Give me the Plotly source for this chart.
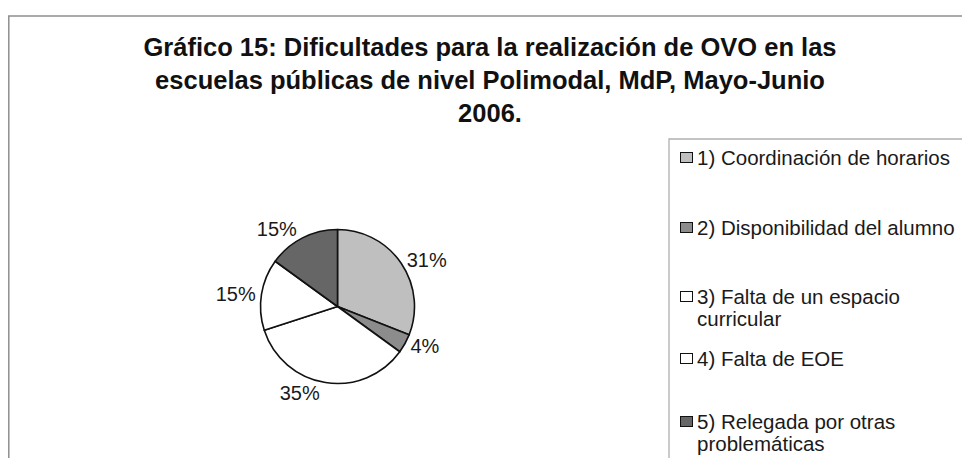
import plotly.graph_objects as go

# ---- data ----
categories = [
    "1) Coordinación de horarios",
    "2) Disponibilidad del alumno",
    "3) Falta de un espacio curricular",
    "4) Falta de EOE",
    "5) Relegada por otras problemáticas",
]
values = [31, 4, 35, 15, 15]
colors = ["#bfbfbf", "#8c8c8c", "#ffffff", "#ffffff", "#666666"]
legend_lines = [
    ["1) Coordinación de horarios"],
    ["2) Disponibilidad del alumno"],
    ["3) Falta de un espacio", "curricular"],
    ["4) Falta de EOE"],
    ["5) Relegada por otras", "problemáticas"],
]
title_text = ("Gráfico 15: Dificultades para la realización de OVO en las<br>"
              "escuelas públicas de nivel Polimodal, MdP, Mayo-Junio<br>2006.")

# the page body keeps its default 8px margin on every side, so the figure is
# sized to fit inside the window without scrolling
OFF = 8
W, H = 970 - 2 * OFF, 466 - 2 * OFF
FONT = "Liberation Sans, Arial, sans-serif"


def px(x):  # page pixel -> paper x
    return (x - OFF) / W


def py(y):  # page pixel -> paper y
    return 1 - (y - OFF) / H


cx, cy, r = 337.5, 306.5, 77

fig = go.Figure(
    go.Pie(
        labels=categories,
        values=values,
        sort=False,
        direction="clockwise",
        rotation=0,
        marker=dict(colors=colors, line=dict(color="#111111", width=1.6)),
        textinfo="percent",
        texttemplate="%{percent:.0%}",
        textposition="outside",
        textfont=dict(size=20, color="#1a1a1a", family=FONT),
        showlegend=False,
        hoverinfo="label+percent",
        domain=dict(x=[px(cx - r), px(cx + r)],
                    y=[py(cy + r), py(cy - r)]),
    )
)

frame = dict(color="#8f8f8f", width=1.5)
legend_frame = dict(color="#b0b0b0", width=1.3)
shapes = [
    # outer chart frame (top and left edges; the rest lies outside the view)
    dict(type="rect", xref="paper", yref="paper",
         x0=px(OFF + 0.8), x1=1.02, y0=-0.02, y1=py(16),
         line=frame, fillcolor="rgba(0,0,0,0)"),
    # legend frame
    dict(type="rect", xref="paper", yref="paper",
         x0=px(669), x1=1.02, y0=-0.02, y1=py(139),
         line=legend_frame, fillcolor="rgba(0,0,0,0)"),
]

annotations = []
item_y = [158, 227, 296, 358, 421]
line_gap = 22
for i, lines in enumerate(legend_lines):
    annotations.append(dict(
        xref="paper", yref="paper", x=px(686), y=py(item_y[i]),
        xanchor="center", yanchor="middle", text=" ",
        font=dict(size=1), width=11, height=9, borderpad=0,
        bgcolor=colors[i], bordercolor="#111111", borderwidth=1,
        showarrow=False,
    ))
    for k, ln in enumerate(lines):
        annotations.append(dict(
            xref="paper", yref="paper",
            x=px(695), y=py(item_y[i] + k * line_gap),
            xanchor="left", yanchor="middle", text=ln,
            font=dict(size=20.5, color="#1a1a1a", family=FONT),
            showarrow=False,
        ))

fig.update_layout(
    width=W, height=H,
    margin=dict(l=0, r=0, t=0, b=0),
    paper_bgcolor="white", plot_bgcolor="white",
    title=dict(text=title_text, x=px(490), xanchor="center",
               y=py(56), yref="container", yanchor="top",
               font=dict(size=25.5, color="#111111", family=FONT, weight="bold")),
    shapes=shapes,
    annotations=annotations,
)

fig.write_html("out.html")
